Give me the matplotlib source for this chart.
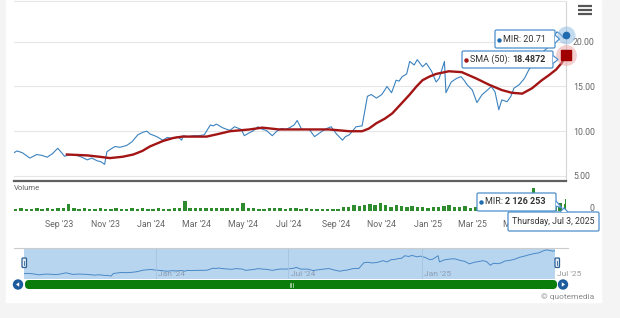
import matplotlib

matplotlib.use("Agg")
import matplotlib.pyplot as plt
import matplotlib.dates as mdates
import pandas as pd
from matplotlib.patches import Circle, FancyBboxPatch, Polygon, Rectangle

plt.rcParams["font.family"] = ["Roboto", "DejaVu Sans"]

# ---- data ----
price_dates = [
    "2023-07-03", "2023-07-07", "2023-07-14", "2023-07-19", "2023-07-24", "2023-08-02",
    "2023-08-09", "2023-08-16", "2023-08-23", "2023-08-30", "2023-09-04", "2023-09-08",
    "2023-09-15", "2023-09-24", "2023-10-01", "2023-10-08", "2023-10-14", "2023-10-21",
    "2023-10-26", "2023-10-31", "2023-11-03", "2023-11-08", "2023-11-14", "2023-11-20",
    "2023-11-29", "2023-12-06", "2023-12-14", "2023-12-21", "2023-12-26", "2023-12-30",
    "2024-01-08", "2024-01-16", "2024-01-22", "2024-01-29", "2024-02-05", "2024-02-10",
    "2024-02-12", "2024-02-19", "2024-02-26", "2024-03-04", "2024-03-11", "2024-03-19",
    "2024-03-23", "2024-03-27", "2024-04-04", "2024-04-10", "2024-04-14", "2024-04-20",
    "2024-04-29", "2024-05-03", "2024-05-09", "2024-05-14", "2024-05-21", "2024-05-27",
    "2024-06-01", "2024-06-09", "2024-06-15", "2024-06-21", "2024-06-27", "2024-07-02",
    "2024-07-08", "2024-07-12", "2024-07-18", "2024-07-28", "2024-08-04", "2024-08-09",
    "2024-08-14", "2024-08-20", "2024-08-26", "2024-09-02", "2024-09-10", "2024-09-14",
    "2024-09-19", "2024-09-28", "2024-10-06", "2024-10-13", "2024-10-18", "2024-10-25",
    "2024-11-01", "2024-11-05", "2024-11-08", "2024-11-14", "2024-11-20", "2024-11-24",
    "2024-11-28", "2024-12-04", "2024-12-08", "2024-12-14", "2024-12-18", "2024-12-25",
    "2024-12-30", "2025-01-06", "2025-01-12", "2025-01-16", "2025-01-23", "2025-01-25",
    "2025-02-01", "2025-02-08", "2025-02-14", "2025-02-18", "2025-02-22", "2025-03-01",
    "2025-03-07", "2025-03-14", "2025-03-21", "2025-03-26", "2025-03-31", "2025-04-05",
    "2025-04-09", "2025-04-16", "2025-04-21", "2025-04-25", "2025-05-02", "2025-05-09",
    "2025-05-15", "2025-05-22", "2025-05-28", "2025-06-04", "2025-06-11", "2025-06-17",
    "2025-06-21", "2025-06-25", "2025-06-30", "2025-07-03",
]
price = [
    7.6, 7.8, 7.6, 7.3, 7.0, 7.4, 7.3, 7.1, 7.5, 8.1, 7.6, 7.2,
    7.4, 7.3, 7.1, 6.8, 7.0, 6.7, 6.6, 6.3, 7.7, 8.0, 8.3, 8.2,
    8.4, 8.8, 9.6, 9.9, 10.0, 9.7, 9.4, 9.0, 9.3, 9.2, 9.4, 9.0,
    9.5, 9.4, 9.5, 9.5, 9.6, 10.7, 10.6, 10.8, 10.4, 10.2, 10.1, 10.5,
    10.2, 9.5, 9.8, 10.0, 10.5, 10.2, 10.1, 9.5, 10.0, 10.3, 10.2, 10.4,
    10.7, 11.2, 10.2, 10.2, 9.4, 9.7, 10.0, 10.3, 10.5, 9.7, 9.0, 9.4,
    9.6, 10.5, 10.6, 13.9, 14.1, 13.7, 14.1, 14.6, 15.0, 14.3, 15.7, 15.6,
    16.1, 16.4, 17.8, 17.4, 18.0, 17.2, 17.6, 16.7, 15.5, 15.9, 17.8, 14.3,
    15.5, 15.9, 16.1, 15.7, 15.2, 14.6, 13.2, 14.1, 14.6, 15.0, 14.4, 12.4,
    13.5, 13.3, 13.9, 14.8, 15.2, 15.9, 16.9, 17.6, 18.3, 19.0, 19.5, 20.6,
    21.1, 20.9, 20.4, 20.71,
]

sma_dates = [
    "2023-09-11", "2023-10-08", "2023-10-24", "2023-11-07", "2023-11-24", "2023-12-08",
    "2023-12-20", "2023-12-30", "2024-01-16", "2024-01-30", "2024-02-11", "2024-03-14",
    "2024-03-30", "2024-04-14", "2024-05-10", "2024-05-27", "2024-06-18", "2024-07-15",
    "2024-08-23", "2024-09-19", "2024-10-06", "2024-10-15", "2024-10-25", "2024-11-05",
    "2024-11-15", "2024-11-26", "2024-12-08", "2024-12-17", "2024-12-25", "2025-01-03",
    "2025-01-12", "2025-01-29", "2025-02-15", "2025-03-06", "2025-03-23", "2025-04-09",
    "2025-04-22", "2025-05-06", "2025-05-19", "2025-06-01", "2025-06-11", "2025-06-20",
    "2025-06-27", "2025-07-03",
]
sma = [
    7.4, 7.3, 7.15, 7.0, 7.15, 7.4, 7.8, 8.3, 8.9, 9.25, 9.4, 9.4,
    9.7, 10.0, 10.2, 10.4, 10.2, 10.2, 10.2, 10.0, 10.0, 10.3, 10.9, 11.4,
    12.0, 13.0, 14.1, 15.0, 15.7, 16.1, 16.4, 16.7, 16.6, 15.9, 15.2, 14.6,
    14.3, 14.2, 14.8, 15.7, 16.3, 16.9, 17.6, 18.4872,
]

# weekly volume in millions, weeks starting 2023-07-03
vol_start = "2023-07-03"
volume = [
    0.35, 0.45, 0.3, 0.4, 0.5, 0.35, 0.45, 0.4, 0.5, 0.45,
    1.25,
    0.45, 0.35, 0.5, 0.4, 0.35, 0.45, 0.3, 0.4, 0.5,
    0.4, 0.35, 0.45, 0.4, 0.5, 0.35, 0.3, 0.45, 0.4, 0.35, 0.5, 0.45,
    1.8,
    0.55, 0.5, 0.6, 0.5, 0.45, 0.55, 0.5, 0.45, 0.5, 0.5,
    1.4,
    0.5, 0.45, 0.4, 0.4, 0.5, 0.5, 0.45, 0.4, 0.5, 0.45, 0.4, 0.45,
    0.35, 0.4, 0.4, 0.35, 0.3, 0.4,
    0.7, 0.8, 1.0, 0.9, 1.1, 1.3, 1.0, 1.4, 1.1, 0.8, 1.0, 0.9, 0.8, 0.9,
    0.7, 0.8, 0.6, 0.8, 0.7, 0.9,
    1.1,
    0.8, 0.7, 0.9, 0.6, 0.7, 0.8, 0.6, 0.7, 0.8, 0.7, 0.6, 0.8, 0.7, 0.9, 0.8,
    4.1,
    1.0, 1.2, 1.6, 1.1, 1.4, 1.3,
]
last_date = "2025-07-03"
last_volume = 2126253
date_label = "Thursday, Jul 3, 2025"

tick_dates = ["2023-09-01", "2023-11-01", "2024-01-01", "2024-03-01", "2024-05-01",
              "2024-07-01", "2024-09-01", "2024-11-01", "2025-01-01", "2025-03-01",
              "2025-05-01"]
tick_labels = ["Sep '23", "Nov '23", "Jan '24", "Mar '24", "May '24", "Jul '24",
               "Sep '24", "Nov '24", "Jan '25", "Mar '25", "May '25"]
nav_dates = ["2024-01-01", "2024-07-01", "2025-01-01"]
nav_labels = ["Jan '24", "Jul '24", "Jan '25"]

W, H = 620, 318
BLUE = "#3b82bf"
RED = "#a31515"
GREY = "#666666"


def box(x0, y0, x1, y1):
    """pixel box (top-left origin) -> figure fraction rect"""
    return [x0 / W, 1 - y1 / H, (x1 - x0) / W, (y1 - y0) / H]


pd_dates = mdates.date2num(pd.to_datetime(price_dates))
sma_x = mdates.date2num(pd.to_datetime(sma_dates))
vol_x = mdates.date2num(pd.date_range(vol_start, periods=len(volume), freq="7D"))
t0 = mdates.date2num(pd.Timestamp("2023-07-03"))
t1 = mdates.date2num(pd.Timestamp(last_date))

fig = plt.figure(figsize=(6.2, 3.18), dpi=100)
fig.patch.set_facecolor("#f4f4f4")

bg = fig.add_axes([0, 0, 1, 1], zorder=-10)
bg.set_xlim(0, W)
bg.set_ylim(H, 0)
bg.axis("off")
bg.add_patch(Rectangle((6, 0), 595, 302, color="white"))

# ---- price pane ----
ax = fig.add_axes(box(14, 1, 566, 181))
ax.set_facecolor("none")
ax.plot(pd_dates, price, color=BLUE, lw=0.8)
ax.plot(sma_x, sma, color=RED, lw=1.7, solid_joinstyle="round")
ax.set_xlim(t0, t1)
ax.set_ylim(4.44, 24.55)
ax.set_xticks([])
ax.set_yticks([5, 10, 15, 20])
ax.set_yticklabels([f"{v:.2f}" for v in (5, 10, 15, 20)])
ax.yaxis.tick_right()
ax.tick_params(axis="y", length=0, pad=5, labelsize=6.3, labelcolor=GREY)
ax.grid(axis="y", color="#e6e6e6", lw=0.8)
ax.spines["left"].set_visible(False)
ax.spines["top"].set_color("#e6e6e6")
ax.spines["right"].set_color("#d4d4d4")
ax.spines["right"].set_linewidth(0.8)
ax.spines["bottom"].set_color("#5f5f5f")
ax.spines["bottom"].set_linewidth(1.6)

# last-point markers
ax.plot(pd_dates[-1], price[-1], "o", ms=13, color="#8ab8e0", alpha=0.5, clip_on=False,
        mec="none", zorder=6)
ax.plot(pd_dates[-1], price[-1], "o", ms=4.5, color="#1f6bb0", clip_on=False, zorder=7)
ax.plot(sma_x[-1], sma[-1], "o", ms=15, color="#e8a0a0", alpha=0.5, clip_on=False,
        mec="none", zorder=6)
ax.plot(sma_x[-1], sma[-1], "s", ms=6.5, color="#a00000", clip_on=False, zorder=7)

# ---- volume pane ----
axv = fig.add_axes(box(14, 182, 566, 211))
axv.set_facecolor("none")
axv.bar(vol_x, volume, width=4.6, color="#2e8b2e", align="edge")
axv.bar(mdates.date2num(pd.Timestamp(last_date)), last_volume / 1e6, width=1.5, color="#2e8b2e")
axv.set_xlim(t0, t1)
axv.set_ylim(0, 5.2)
for s in axv.spines.values():
    s.set_visible(False)
axv.set_yticks([])
axv.set_xticks(mdates.date2num(pd.to_datetime(tick_dates)))
axv.set_xticklabels(tick_labels)
axv.tick_params(axis="x", length=0, pad=6.5, labelsize=6.3, labelcolor=GREY)
fig.text(14 / W, 1 - 188 / H, "Volume", fontsize=5.5, color=GREY, va="center")
fig.text(594 / W, 1 - 208.5 / H, "0", fontsize=6.3, color=GREY, va="center", ha="right")

# ---- navigator ----
axn = fig.add_axes(box(24, 248, 555, 279))
axn.set_facecolor("#b8d5ef")
axn.plot(pd_dates, price, color="#4a88c7", lw=0.7)
axn.set_xlim(t0, t1)
axn.set_ylim(4.6, 22.2)
axn.set_xticks([])
axn.set_yticks([])
for s in axn.spines.values():
    s.set_visible(False)
for d, lab in zip(mdates.date2num(pd.to_datetime(nav_dates)), nav_labels):
    axn.axvline(d, color="#a6c4df", lw=0.6)
    axn.text(d + 3, 7.6, lab, fontsize=6, color="#8a9db3", va="center")
axn.text(t1 + 3, 7.6, "Jul '25", fontsize=6, color="#9a9a9a", va="center", clip_on=False)

# ---- overlay widgets (pixel coords) ----
ov = fig.add_axes([0, 0, 1, 1], zorder=10)
ov.set_xlim(0, W)
ov.set_ylim(H, 0)
ov.axis("off")
ov.patch.set_visible(False)

ov.plot([14, 568], [248, 248], color="#cccccc", lw=0.8)
for y in (5.5, 9.5, 13.5):
    ov.plot([578, 592], [y, y], color="#555555", lw=1.6, solid_capstyle="butt")

# navigator handles
for hx in (22, 555):
    ov.add_patch(FancyBboxPatch((hx, 258), 4.5, 9.5, boxstyle="round,pad=0,rounding_size=1",
                                fc="#e8eef5", ec="#2b5f94", lw=0.9))
    ov.plot([hx + 2.25, hx + 2.25], [260.5, 265], color="#2b5f94", lw=0.6)

# scrollbar
ov.add_patch(FancyBboxPatch((25, 280), 532, 9, boxstyle="round,pad=0,rounding_size=4",
                            fc="#0b7d0b", ec="none"))
for gx in (289.5, 291, 292.5):
    ov.plot([gx, gx], [282.5, 286.5], color="#cfe5cf", lw=0.5)
for cx, sgn in ((18, -1), (563, 1)):
    ov.add_patch(Circle((cx, 284.5), 5.2, fc="#1d5c9c", ec="none"))
    ov.add_patch(Polygon([(cx + 2 * sgn, 284.5), (cx - 1.2 * sgn, 282.3), (cx - 1.2 * sgn, 286.7)],
                         closed=True, fc="white", ec="none"))

ov.text(594, 297, "\u00a9 quotemedia", fontsize=6, color="#8a8a8a", ha="right", va="center")

TIP = "#4d8fcc"


def tooltip(x0, y0, x1, y1, notch=None):
    ov.add_patch(FancyBboxPatch((x0, y0), x1 - x0, y1 - y0,
                                boxstyle="round,pad=0,rounding_size=1.5",
                                fc="white", ec=TIP, lw=0.9))
    if notch:
        ov.add_patch(Polygon(notch, closed=False, fc="white", ec=TIP, lw=0.9))


def two_part(x, y, normal, bold, dot_color, size=6.5):
    ov.plot(x - 4, y, "o", ms=2.2, color=dot_color)
    t = ov.text(x, y, normal, fontsize=size, color="#333333", va="center")
    ov.annotate(bold, xy=(1, 0.5), xycoords=t, fontsize=size, color="#333333",
                fontweight="bold", va="center", ha="left")


tooltip(495, 30, 555, 48, [(555, 35), (559.5, 39), (555, 43)])
two_part(503, 39.5, f"MIR: {price[-1]:.2f}", "", "#1f6bb0")
tooltip(462, 51, 553, 68, [(553, 55.5), (558, 59.5), (553, 63.5)])
two_part(470, 59.5, "SMA (50): ", f"{sma[-1]:.4f}", RED)

vol_txt = f"{last_volume:,}".replace(",", " ")
tooltip(477, 193, 556, 211, [(556, 201), (562, 208), (556, 206)])
two_part(485, 202, "MIR: ", vol_txt, "#1f6bb0")
tooltip(508, 212, 599, 231, [(560, 212), (564, 208), (568, 212)])
ov.text(553.5, 221.8, date_label, fontsize=6.3, color="#333333", ha="center", va="center")

fig.savefig("out.png", dpi=100, facecolor=fig.get_facecolor())
